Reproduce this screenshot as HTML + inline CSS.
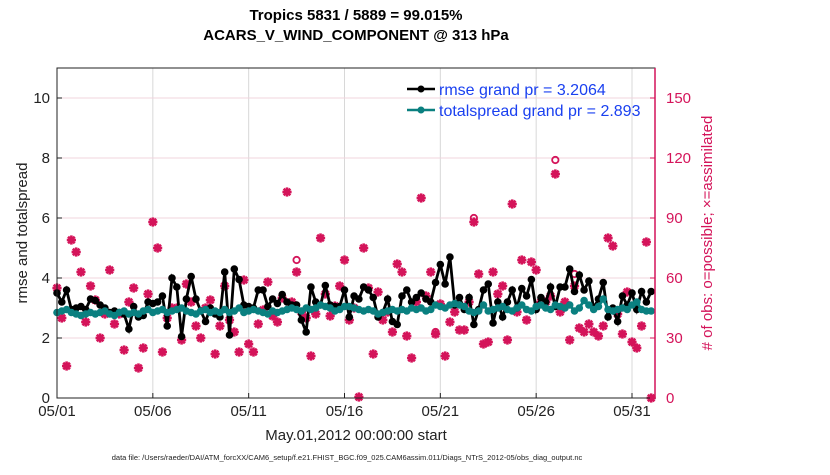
<!DOCTYPE html>
<html><head><meta charset="utf-8"><style>
body{margin:0;background:#fff;width:830px;height:470px;overflow:hidden}
svg text{font-family:"Liberation Sans",sans-serif}
</style></head><body>
<svg id="chart" width="830" height="470" xmlns="http://www.w3.org/2000/svg">
<text x="356" y="20" font-size="15" font-weight="bold" text-anchor="middle">Tropics 5831 / 5889 = 99.015%</text>
<text x="356" y="40" font-size="15" font-weight="bold" text-anchor="middle">ACARS_V_WIND_COMPONENT @ 313 hPa</text>
<g id="grid"></g>
<g id="obs"></g>
<g id="lines"></g>
<rect x="57" y="68" width="598" height="330" fill="none" stroke="#222" stroke-width="1"/>
<line x1="655" y1="68" x2="655" y2="398" stroke="#d4145a" stroke-width="1.5"/>
<g id="ticks"></g>
<text x="356" y="440" font-size="15" text-anchor="middle" fill="#222">May.01,2012 00:00:00 start</text>
<text transform="translate(27,233) rotate(-90)" font-size="15" text-anchor="middle" fill="#222">rmse and totalspread</text>
<text transform="translate(712,233) rotate(-90)" font-size="15" text-anchor="middle" fill="#d4145a"># of obs: o=possible; ×=assimilated</text>
<g>
<line x1="407" y1="89" x2="435" y2="89" stroke="#000" stroke-width="2.5"/><circle cx="421" cy="89" r="3.5" fill="#000"/>
<text x="439" y="95" font-size="16" fill="#1a40f0">rmse grand pr = 3.2064</text>
<line x1="407" y1="110" x2="435" y2="110" stroke="#0a8080" stroke-width="2.5"/><circle cx="421" cy="110" r="3.5" fill="#0a8080"/>
<text x="439" y="116" font-size="16" fill="#1a40f0">totalspread grand pr = 2.893</text>
</g>
<text x="347" y="460" font-size="7.5" text-anchor="middle" fill="#222">data file: /Users/raeder/DAI/ATM_forcXX/CAM6_setup/f.e21.FHIST_BGC.f09_025.CAM6assim.011/Diags_NTrS_2012-05/obs_diag_output.nc</text>
</svg>
<script>
const rmse=[3.5,3.2,3.6,2.95,3.0,3.05,2.95,3.3,3.25,3.1,
3.0,2.85,2.9,2.85,2.8,2.3,3.05,2.7,2.75,3.2,
3.15,3.2,3.4,2.4,4.0,3.7,2.05,3.3,4.05,3.3,
2.9,2.55,3.0,2.8,2.7,4.2,2.1,4.3,3.95,3.1,
3.05,3.0,3.6,
3.6,3.05,3.3,3.15,3.45,3.2,3.1,3.1,2.6,2.2,3.7,3.2,3.1,3.75,3.1,3.05,3.05,3.6,2.7,3.4,3.3,3.7,3.6,3.35,2.7,2.85,3.3,2.55,2.45,3.4,3.6,3.2,3.35,3.5,3.3,3.2,3.85,4.45,3.8,4.7,3.1,3.35,
2.95,3.35,2.45,2.95,3.6,3.8,2.5,3.2,2.7,3.2,3.6,3.0,3.65,3.4,3.95,2.95,3.35,3.2,3.7,3.05,3.7,3.7,4.3,3.55,4.1,3.6,3.9,3.0,3.3,3.85,2.7,3.0,2.55,3.4,3.1,3.5,2.95,3.55,3.2,3.55];
const spread=[2.85,2.9,2.95,2.85,2.8,2.75,2.8,2.85,2.8,2.85,2.9,2.8,2.75,2.85,2.9,2.8,2.85,2.8,2.9,2.95,2.85,2.9,2.95,2.85,2.9,2.95,3.0,2.9,2.85,2.8,2.9,2.95,2.85,2.9,2.85,2.95,2.85,2.9,3.0,2.85,2.9,
2.95,2.9,2.85,2.8,2.9,2.85,2.9,2.95,3.0,2.95,2.9,3.0,2.95,3.0,3.1,3.05,3.0,2.9,2.95,3.05,3.05,3.0,2.95,2.9,2.95,2.9,2.8,2.85,2.9,2.95,2.9,2.95,2.9,3.0,2.95,3.0,2.9,2.95,3.1,3.05,3.0,3.1,3.15,3.1,
3.05,2.9,2.85,2.9,3.1,2.9,2.95,3.0,3.05,2.95,2.9,3.0,3.1,2.95,2.9,3.05,3.1,3.0,2.95,3.1,3.05,3.0,3.1,2.9,3.0,3.25,3.1,2.95,3.05,3.3,2.95,2.9,2.95,3.0,2.95,3.1,3.2,2.95,2.9,2.9];
const nAssim=[55,40,16,79,73,63,38,56,49,30,42,64,37,42,24,48,55,15,25,52,88,75,23,40,45,45,29,57,48,36,30,45,49,22,36,56,39,33,23,59,27,23,37,
44,58,41,38,50,103,48,63,43,40,21,42,80,52,41,46,56,69,39,45,0.5,75,55,22,53,39,43,33,67,63,31,20,48,100,51,63,32,47,21,38,43,34,
34,48,88,62,27,28,63,52,56,29,97,43,69,39,68,64,48,48,51,112,43,48,29,56,35,33,37,33,31,36,80,76,42,32,53,28,25,36,78,0];
const nPoss=nAssim.slice();
const possIdx=[50,79,87,104,108];
const possVal=[69,33,90,119,62];
const xTickLabels=["05/01","05/06","05/11","05/16","05/21","05/26","05/31"];
const xTickDays=[0,5,10,15,20,25,30];
const yLeftTicks=[0,2,4,6,8,10];
const yRightTicks=[0,30,60,90,120,150];

possIdx.forEach((k,j)=>{nPoss[k]=possVal[j];});
const NS="http://www.w3.org/2000/svg";
const X0=57,X1=655,Y0=398,Y1=68,DMAX=31.2,VMAX=11;
const xs=d=>X0+d/DMAX*(X1-X0);
const yl=v=>Y0-v/VMAX*(Y0-Y1);
const yr=n=>yl(n/15);
function mk(tag,attrs,parent){const e=document.createElementNS(NS,tag);for(const k in attrs)e.setAttribute(k,attrs[k]);parent.appendChild(e);return e;}
const grid=document.getElementById('grid'),ticks=document.getElementById('ticks');
xTickDays.forEach((d,i)=>{
  const l=mk('line',{x1:xs(d),x2:xs(d),y1:Y1,y2:Y0,stroke:'#d8d8d8','stroke-width':1},grid);
  
  
  mk('line',{x1:xs(d),x2:xs(d),y1:Y0,y2:Y0-5,stroke:'#222'},ticks);
  const t=mk('text',{x:xs(d),y:416,'font-size':15,'text-anchor':'middle',fill:'#222'},ticks);
  t.textContent=xTickLabels[i];
  
  
});
yRightTicks.forEach(n=>{
  const l=mk('line',{x1:X0,x2:X1,y1:yr(n),y2:yr(n),stroke:'#f0d4de','stroke-width':1},grid);
  
  
  mk('line',{x1:X1,x2:X1-5,y1:yr(n),y2:yr(n),stroke:'#d4145a'},ticks);
  const t=mk('text',{x:666,y:yr(n)+5,'font-size':15,fill:'#d4145a'},ticks);
  t.textContent=n;
  
  
});
yLeftTicks.forEach(v=>{
  mk('line',{x1:X0,x2:X0+5,y1:yl(v),y2:yl(v),stroke:'#222'},ticks);
  const t=mk('text',{x:50,y:yl(v)+5,'font-size':15,'text-anchor':'end',fill:'#222'},ticks);
  t.textContent=v;
  
  
});
const obs=document.getElementById('obs');
nPoss.forEach((n,i)=>{
  if(n===nAssim[i])return;
  const c=mk('circle',{cx:xs(i/4),cy:yr(n),r:3.2,fill:'none',stroke:'#d4145a','stroke-width':1.8},obs);
  
  
});
nAssim.forEach((n,i)=>{
  const x=xs(i/4),y=yr(n),s=4.6;
  const g=mk('g',{stroke:'#d4145a','stroke-width':2.6},obs);
  
  
  mk('line',{x1:x-s,x2:x+s,y1:y,y2:y},g);mk('line',{x1:x,x2:x,y1:y-s,y2:y+s},g);
  mk('line',{x1:x-s*.72,x2:x+s*.72,y1:y-s*.72,y2:y+s*.72},g);mk('line',{x1:x-s*.72,x2:x+s*.72,y1:y+s*.72,y2:y-s*.72},g);
});
const lines=document.getElementById('lines');
function series(arr,color,name){
  const p=mk('polyline',{points:arr.map((v,i)=>xs(i/4)+','+yl(v)).join(' '),fill:'none',stroke:color,'stroke-width':2.8},lines);
  
  
  arr.forEach((v,i)=>{
    const c=mk('circle',{cx:xs(i/4),cy:yl(v),r:3.8,fill:color},lines);
    
    
  });
}
series(rmse,'#000','rmse');
series(spread,'#0a8080','totalspread');
</script>
</body></html>
